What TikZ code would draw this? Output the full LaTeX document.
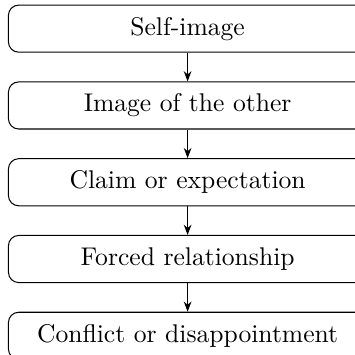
\documentclass[tikz,border=0pt]{standalone}
\usepackage{tikz}
\usetikzlibrary{arrows.meta, positioning}

\begin{document}
\begin{tikzpicture}[
  stage/.style={rectangle, rounded corners=4pt,
    minimum width=140pt, minimum height=18.4pt,
    draw=black, line width=0.4pt},
  ar/.style={-{Stealth[length=4pt, width=3pt]}, line width=0.4pt},
  node distance=11.2pt
]
  \clip (0,0) rectangle (138.7pt,-138.7pt);

  \node[stage] (s1) at (73.3pt,-11.2pt) {Self-image};
  \node[stage, below=of s1] (s2) {Image of the other};
  \node[stage, below=of s2] (s3) {Claim or expectation};
  \node[stage, below=of s3] (s4) {Forced relationship};
  \node[stage, below=of s4] (s5) {Conflict or disappointment};

  \foreach \a/\b in {s1/s2,s2/s3,s3/s4,s4/s5}{
    \draw[ar] (\a.south) -- (\b.north);
  }
\end{tikzpicture}
\end{document}
